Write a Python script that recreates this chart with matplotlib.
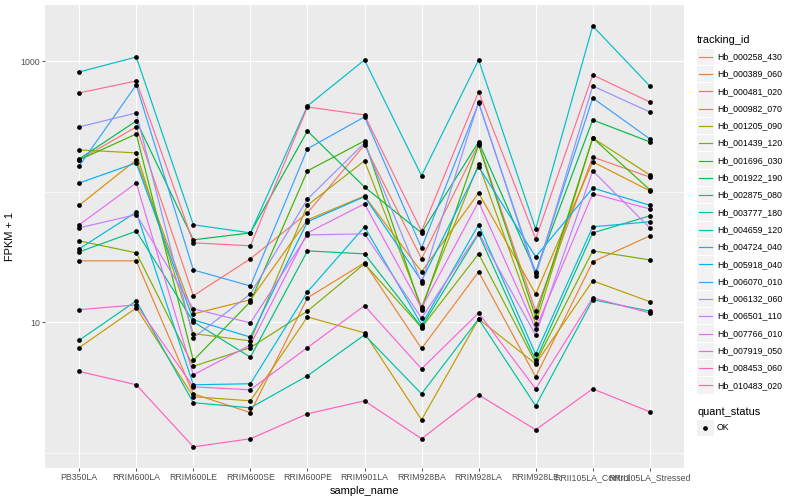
import matplotlib
matplotlib.use("Agg")
import matplotlib.pyplot as plt
from matplotlib.patches import Rectangle

plt.rcParams["font.family"] = ["Liberation Sans", "DejaVu Sans"]

samples = ["PB350LA", "RRIM600LA", "RRIM600LE", "RRIM600SE", "RRIM600PE",
           "RRIM901LA", "RRIM928BA", "RRIM928LA", "RRIM928LE",
           "RRII105LA_Control", "RRII105LA_Stressed"]

tracking_ids = ["Hb_000258_430", "Hb_000389_060", "Hb_000481_020", "Hb_000982_070",
                "Hb_001205_090", "Hb_001439_120", "Hb_001696_030", "Hb_001922_190",
                "Hb_002875_080", "Hb_003777_180", "Hb_004659_120", "Hb_004724_040",
                "Hb_005918_040", "Hb_006070_010", "Hb_006132_060", "Hb_006501_110",
                "Hb_007766_010", "Hb_007919_050", "Hb_008453_060", "Hb_010483_020"]

colors = ["#F8766D", "#EA8331", "#D89000", "#C09B00", "#A3A500", "#7CAE00",
          "#39B600", "#00BB4E", "#00BF7D", "#00C1A3", "#00BFC4", "#00BAE0",
          "#00B0F6", "#35A2FF", "#9590FF", "#C77CFF", "#E76BF3", "#FA62DB",
          "#FF62BC", "#FF6C91"]

# FPKM + 1, one list per tracking_id, in sample order
fpkm = {
    "Hb_000258_430": [176, 315, 16.0, 30.7, 69, 229, 30.7, 233, 12.2, 185, 130],
    "Hb_000389_060": [29.6, 29.6, 2.83, 2.03, 15.4, 28.6, 6.3, 24.4, 3.82, 29.1, 46],
    "Hb_000481_020": [79, 176, 11.6, 14.9, 61, 93, 24.4, 98, 16.5, 170, 102],
    "Hb_000982_070": [6.4, 12.9, 2.69, 2.50, 11.0, 8.3, 1.79, 10.6, 4.8, 20.8, 14.4],
    "Hb_001205_090": [210, 199, 8.2, 7.2, 79, 173, 13.1, 164, 9.7, 259, 135],
    "Hb_001439_120": [42.1, 34.1, 4.6, 6.4, 12.2, 28.1, 9.1, 33.5, 4.9, 35.3, 30.1],
    "Hb_001696_030": [176, 278, 5.1, 14.4, 145, 246, 12.5, 229, 11.0, 259, 104],
    "Hb_001922_190": [179, 350, 42.9, 48.5, 293, 109, 48.5, 242, 24.4, 356, 242],
    "Hb_002875_080": [34.7, 50, 10.1, 5.4, 35.3, 33.5, 9.2, 47.7, 5.1, 48.5, 65.5],
    "Hb_003777_180": [7.3, 14.6, 2.42, 2.21, 3.89, 8.0, 2.83, 10.6, 2.29, 14.9, 12.2],
    "Hb_004659_120": [831, 1082, 56, 48.5, 456, 1027, 133, 1027, 52, 1870, 649],
    "Hb_004724_040": [36.6, 70, 3.32, 3.38, 17.1, 54, 9.6, 56, 5.7, 54, 59],
    "Hb_005918_040": [117, 167, 10.45, 7.7, 59, 92, 20.8, 156, 31.8, 107, 79],
    "Hb_006070_010": [158, 661, 25.2, 19.0, 214, 376, 37.2, 481, 23.9, 525, 255],
    "Hb_006132_060": [315, 403, 7.6, 16.5, 88, 237, 20.1, 489, 22.7, 649, 410],
    "Hb_006501_110": [53, 67, 12.7, 9.9, 46.8, 47.7, 10.8, 48.5, 8.0, 145, 53],
    "Hb_007766_010": [56, 117, 3.96, 6.7, 48.5, 81, 12.9, 84, 8.9, 97, 74],
    "Hb_007919_050": [12.5, 13.6, 3.2, 3.04, 6.4, 13.4, 4.4, 11.8, 3.09, 15.4, 11.8],
    "Hb_008453_060": [4.2, 3.32, 1.11, 1.28, 1.99, 2.50, 1.28, 2.78, 1.50, 3.09, 2.06],
    "Hb_010483_020": [574, 709, 40.7, 38.6, 448, 389, 50, 584, 43.6, 788, 489],
}

y_ticks = [10, 1000]
y_tick_labels = ["10", "1000"]
y_minor = [1, 100]


def main() -> None:
    fig = plt.figure(figsize=(8, 5), dpi=100)
    fig.patch.set_facecolor("white")
    ax = fig.add_axes([45 / 800, 1 - 468 / 500, 639 / 800, 463 / 500])
    ax.set_facecolor("#EBEBEB")
    for s in ax.spines.values():
        s.set_visible(False)

    x = list(range(len(samples)))
    for tid, col in zip(tracking_ids, colors):
        ax.plot(x, fpkm[tid], color=col, lw=0.85, zorder=3)
    for tid in tracking_ids:
        ax.plot(x, fpkm[tid], ls="none", marker="o", ms=2.4,
                color="black", zorder=4)

    ax.set_yscale("log")
    ax.set_ylim(10 ** -0.117, 10 ** 3.433)
    ax.set_xlim(-0.6, len(samples) - 0.4)

    ax.set_yticks(y_ticks)
    ax.set_yticklabels(y_tick_labels)
    ax.set_yticks(y_minor, minor=True)
    ax.set_yticklabels([], minor=True)
    ax.set_xticks(x)
    ax.set_xticklabels(samples)

    ax.grid(True, which="major", color="white", lw=0.8, zorder=0)
    ax.grid(True, which="minor", axis="y", color="white", lw=0.45, zorder=0)
    ax.set_axisbelow(True)

    ax.tick_params(axis="both", which="major", length=2.0, width=0.6,
                   color="#333333", labelcolor="#4D4D4D", labelsize=6.3, pad=1.6)
    ax.tick_params(axis="y", which="minor", length=0)

    ax.set_xlabel("sample_name", fontsize=7.9, color="black", labelpad=3)
    ax.set_ylabel("FPKM + 1", fontsize=7.9, color="black", labelpad=4)

    # legend, drawn by hand in pixel space
    lg = fig.add_axes([0, 0, 1, 1], zorder=5)
    lg.set_xlim(0, 800)
    lg.set_ylim(500, 0)
    lg.axis("off")

    lg.text(697, 40, "tracking_id", fontsize=7.9, va="center", ha="left")
    for i, (tid, col) in enumerate(zip(tracking_ids, colors)):
        yc = 56.7 + 17.3 * i
        lg.add_patch(Rectangle((697, yc - 8.2), 16.6, 16.4,
                               facecolor="#F2F2F2", edgecolor="none"))
        lg.plot([698.5, 711.5], [yc, yc], color=col, lw=0.85)
        lg.text(717, yc, tid, fontsize=6.3, va="center", ha="left")

    lg.text(697, 412, "quant_status", fontsize=7.9, va="center", ha="left")
    lg.add_patch(Rectangle((697, 428 - 8.2), 16.6, 16.4,
                           facecolor="#F2F2F2", edgecolor="none"))
    lg.plot([705.3], [428], ls="none", marker="o", ms=2.4, color="black")
    lg.text(717, 428, "OK", fontsize=6.3, va="center", ha="left")

    fig.savefig("out.png", dpi=100)
    plt.close(fig)


if __name__ == "__main__":
    main()
